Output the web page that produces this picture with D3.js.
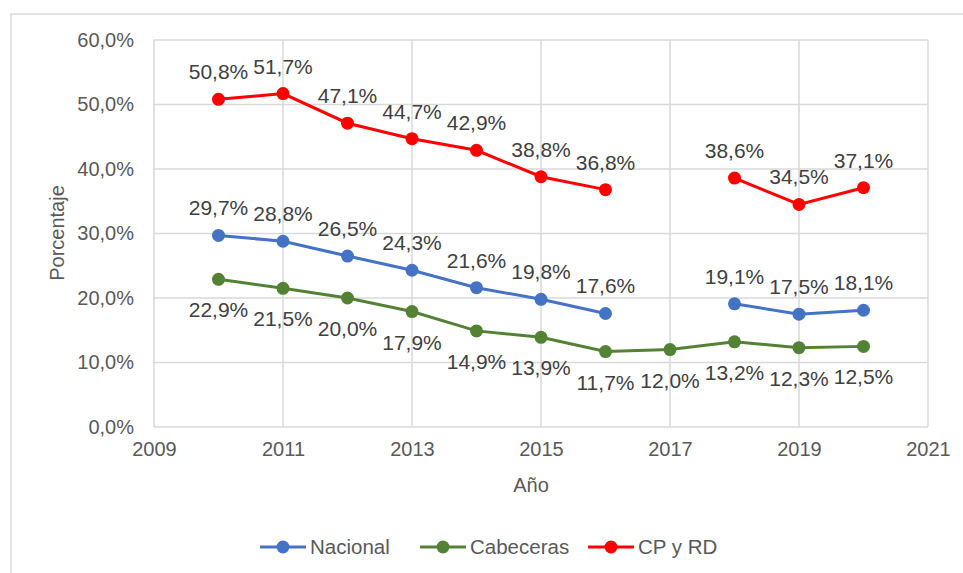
<!DOCTYPE html>
<html><head><meta charset="utf-8">
<script src="https://cdn.jsdelivr.net/npm/d3@7"></script>
<style>body{margin:0;background:#fff}svg{display:block}</style>
</head><body>
<svg id="c" width="963" height="573"></svg>
<script>
const years = [2010,2011,2012,2013,2014,2015,2016,2017,2018,2019,2020];
const nacional = [29.7,28.8,26.5,24.3,21.6,19.8,17.6,null,19.1,17.5,18.1];
const cabeceras = [22.9,21.5,20.0,17.9,14.9,13.9,11.7,12.0,13.2,12.3,12.5];
const cpyrd = [50.8,51.7,47.1,44.7,42.9,38.8,36.8,null,38.6,34.5,37.1];
const xTicks = [2009,2011,2013,2015,2017,2019,2021];
const yTicks = [0,10,20,30,40,50,60];
const seriesNames = ["Nacional","Cabeceras","CP y RD"];
const colors = ["#4472C4","#548235","#FF0000"];

const svg = d3.select("#c");
const font = "'Liberation Sans', Arial, sans-serif";
const L=154, R=928, T=40, B=427;
const x = d3.scaleLinear().domain([2009,2021]).range([L,R]);
const y = d3.scaleLinear().domain([0,60]).range([B,T]);
const fmt = v => d3.format(".1f")(v).replace(".", ",") + "%";

// outer border
svg.append("rect").attr("x",11).attr("y",14).attr("width",970).attr("height",600)
  .attr("fill","none").attr("stroke","#d9d9d9").attr("stroke-width",1.5);

// grid
const g = svg.append("g");
g.selectAll(".hg").data(yTicks).join("line")
  .attr("x1",L).attr("x2",R).attr("y1",d=>y(d)).attr("y2",d=>y(d))
  .attr("stroke","#d9d9d9").attr("stroke-width",1.5);
g.selectAll(".vg").data(xTicks).join("line")
  .attr("y1",T).attr("y2",B).attr("x1",d=>x(d)).attr("x2",d=>x(d))
  .attr("stroke","#d9d9d9").attr("stroke-width",1.5);

// axes
const yAxis = d3.axisLeft(y).tickValues(yTicks).tickFormat(d=>d3.format(".1f")(d).replace(".",",")+"%").tickSize(0).tickPadding(20);
const ya = svg.append("g").attr("transform",`translate(${L},0)`).call(yAxis);
ya.select(".domain").remove();
ya.selectAll("text").attr("font-family",font).attr("font-size",20).attr("fill","#595959");
const xAxis = d3.axisBottom(x).tickValues(xTicks).tickFormat(d3.format("d")).tickSize(0).tickPadding(15);
const xa = svg.append("g").attr("transform",`translate(0,${B})`).call(xAxis);
xa.select(".domain").remove();
xa.selectAll("text").attr("font-family",font).attr("font-size",20).attr("fill","#595959");

// axis titles
svg.append("text").attr("x",531).attr("y",492).attr("text-anchor","middle")
  .attr("font-family",font).attr("font-size",20).attr("fill","#595959").text("Año");
svg.append("text").attr("transform","translate(64,233) rotate(-90)").attr("text-anchor","middle")
  .attr("font-family",font).attr("font-size",20).attr("fill","#595959").text("Porcentaje");

// series
const allSeries = [nacional,cabeceras,cpyrd];
const labelPos = ["above","below","above"];
allSeries.forEach((vals,i)=>{
  const pts = years.map((yr,j)=>({yr,v:vals[j]}));
  const line = d3.line().defined(d=>d.v!==null).x(d=>x(d.yr)).y(d=>y(d.v));
  svg.append("path").datum(pts).attr("d",line).attr("fill","none")
    .attr("stroke",colors[i]).attr("stroke-width",3);
  const valid = pts.filter(d=>d.v!==null);
  svg.append("g").selectAll("circle").data(valid).join("circle")
    .attr("cx",d=>x(d.yr)).attr("cy",d=>y(d.v)).attr("r",6.5).attr("fill",colors[i]);
  svg.append("g").selectAll("text").data(valid).join("text")
    .attr("x",d=>x(d.yr)).attr("y",d=>y(d.v) + (labelPos[i]==="above" ? -20 : 38))
    .attr("text-anchor","middle").attr("font-family",font).attr("font-size",21)
    .attr("fill","#404040").text(d=>fmt(d.v));
});

// legend
const legX = [260,420,588];
seriesNames.forEach((n,i)=>{
  const lg = svg.append("g");
  lg.append("line").attr("x1",legX[i]).attr("x2",legX[i]+46).attr("y1",547).attr("y2",547)
    .attr("stroke",colors[i]).attr("stroke-width",3);
  lg.append("circle").attr("cx",legX[i]+23).attr("cy",547).attr("r",6.5).attr("fill",colors[i]);
  lg.append("text").attr("x",legX[i]+50).attr("y",554).attr("font-family",font).attr("font-size",20.5)
    .attr("fill","#595959").text(n);
});
</script>
</body></html>
